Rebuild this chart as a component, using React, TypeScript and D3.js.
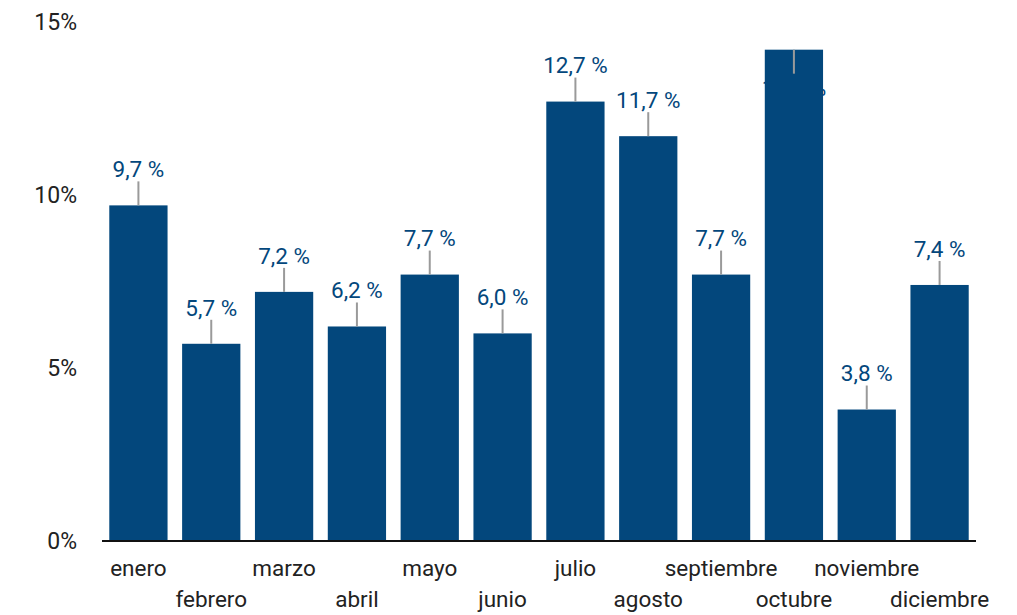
import React from "react";
import * as d3 from "d3";

const months = ["enero","febrero","marzo","abril","mayo","junio","julio","agosto","septiembre","octubre","noviembre","diciembre"];
const values = [9.7, 5.7, 7.2, 6.2, 7.7, 6.0, 12.7, 11.7, 7.7, 14.2, 3.8, 7.4];
const yTicks = [0, 5, 10, 15];

const W = 1017, H = 615;
const x0 = 102, x1 = 976, yTop = 22, yBot = 541;
const BAR = "#03477c";

export default function App() {
  const x = d3.scaleBand<string>().domain(months).range([x0, x1]).paddingInner(0.2).paddingOuter(0.1);
  const y = d3.scaleLinear().domain([0, 15]).range([yBot, yTop]);
  const fmt = (v: number) => v.toFixed(1).replace(".", ",") + " %";
  return (
    <svg width={W} height={H} style={{ position: "absolute", left: 0, top: 0 }} fontFamily="Roboto, sans-serif">
      {yTicks.map((t) => (
        <text key={t} x={77} y={y(t)} dy="0.35em" textAnchor="end" fontSize={23} fill="#222">{t}%</text>
      ))}
      {values.map((v, i) => {
        const bx = x(months[i])!;
        const cx = bx + x.bandwidth() / 2;
        const top = y(v);
        const inside = v > 13.5;
        const lineY1 = inside ? top + 24 : top - 24;
        const ly = inside ? top + 38 : top - 36;
        return (
          <g key={months[i]}>
            <rect x={bx} y={top} width={x.bandwidth()} height={yBot - top} fill={BAR} />
            <line x1={cx} x2={cx} y1={top} y2={lineY1} stroke="#9a9a9a" strokeWidth={2} />
            <text x={cx} y={ly} dy="0.35em" textAnchor="middle" fontSize={22.5} fill={BAR}>{fmt(v)}</text>
          </g>
        );
      })}
      <line x1={x0} x2={x1} y1={yBot} y2={yBot} stroke="#111" strokeWidth={2} />
      {months.map((m, i) => (
        <text key={m} x={x(m)! + x.bandwidth() / 2} y={i % 2 === 0 ? 568 : 599} dy="0.35em" textAnchor="middle" fontSize={22.5} fill="#222">{m}</text>
      ))}
    </svg>
  );
}
